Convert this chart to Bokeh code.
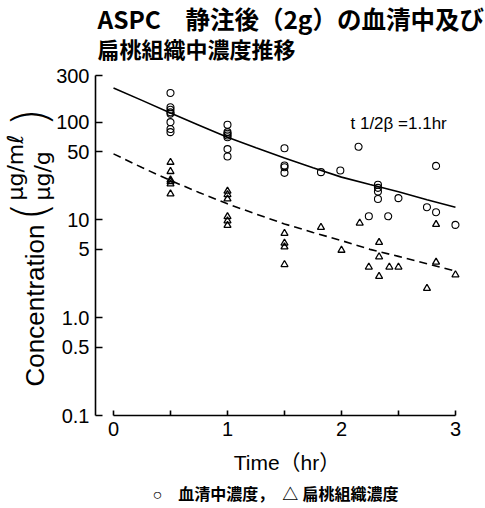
import math
from bokeh.plotting import figure
from bokeh.models import Label, FixedTicker
from bokeh.embed import file_html
from bokeh.resources import INLINE

# ---------------- data ----------------
serum_t = [0.5, 0.5, 0.5, 0.5, 0.5, 0.5, 0.5, 0.5,
           1.0, 1.0, 1.0, 1.0, 1.0, 1.0, 1.0,
           1.5, 1.5, 1.5, 1.5,
           1.82, 1.99, 2.15, 2.24, 2.32, 2.32, 2.32, 2.32, 2.41, 2.5,
           2.75, 2.83, 2.83, 3.0]
serum_c = [199, 142, 134, 126, 122, 100, 85, 79,
           94, 79, 76, 73, 70, 53, 44.5,
           54, 36, 34.6, 30.3,
           30.8, 32, 56, 10.9, 22.9, 21.3, 19.5, 16.4, 10.9, 16.7,
           13.5, 35.7, 12.0, 8.9]

tissue_t = [0.5, 0.5, 0.5, 0.5, 0.5, 0.5,
            1.0, 1.0, 1.0, 1.0, 1.0, 1.0,
            1.5, 1.5, 1.5, 1.5,
            1.82, 2.0, 2.16, 2.24, 2.33, 2.33, 2.33, 2.42, 2.5,
            2.75, 2.83, 2.83, 3.0]
tissue_c = [38.9, 31.3, 25.7, 24.7, 23.4, 18.5,
            19.7, 18.2, 16.4, 10.8, 9.8, 8.8,
            7.3, 5.8, 5.3, 3.5,
            8.4, 4.9, 9.3, 3.3, 5.9, 4.2, 2.65, 3.3, 3.3,
            2.0, 9.0, 3.7, 2.75]

curve_t = [0, 0.25, 0.5, 0.75, 1.0, 1.25, 1.5, 1.75, 2.0, 2.25, 2.5, 2.75, 3.0]
serum_fit = [224, 167, 124, 93, 70, 54.7, 43, 34.2, 27.4, 23.0, 19.4, 16.1, 13.5]
tissue_fit = [47.4, 34.3, 25.3, 19.1, 14.6, 11.5, 9.1, 7.45, 6.15, 5.0, 4.24, 3.56, 3.0]

x_ticks = [0, 0.5, 1, 1.5, 2, 2.5, 3]
x_tick_labels = ["0", "", "1", "", "2", "", "3"]
y_ticks = [0.1, 0.5, 1, 5, 10, 50, 100, 300]
y_tick_labels = ["0.1", "0.5", "1.0", "5", "10", "50", "100", "300"]

title_line1 = "ASPC\u3000静注後（2g）の血清中及び"
title_line2 = "扁桃組織中濃度推移"
half_life_text = "t 1/2β =1.1hr"
y_label = "Concentration"
unit_text = "μg/mℓ\nμg/g"
x_label = "Time（hr）"
legend_text = "○\u3000血清中濃度，\u3000△ 扁桃組織濃度"

# ---------------- figure ----------------
X0, X1 = -0.158, 3.053
Y0, Y1 = 0.1, 300
FW, FH = 366, 340
ML, MT, MR, MB = 95, 75, 24, 93

LATIN = "'Liberation Sans', 'Noto Sans CJK JP', sans-serif"
CJK = "'Noto Sans CJK JP', 'Liberation Sans', sans-serif"
UNIT = "'DejaVu Sans', 'Liberation Sans', sans-serif"
THIN = "'DejaVu Sans Light', 'DejaVu Sans ExtraLight', 'Liberation Sans', sans-serif"

p = figure(frame_width=FW, frame_height=FH, x_range=(X0, X1), y_range=(Y0, Y1),
           y_axis_type="log", output_backend="svg", toolbar_location=None,
           min_border_left=ML, min_border_right=MR,
           min_border_top=MT, min_border_bottom=MB, title=None)
p.grid.visible = False
p.outline_line_color = None
p.background_fill_color = "white"
p.border_fill_color = "white"

xa = p.xaxis[0]
ya = p.yaxis[0]
xa.ticker = FixedTicker(ticks=x_ticks, minor_ticks=[])
ya.ticker = FixedTicker(ticks=y_ticks, minor_ticks=[])
xa.major_label_overrides = {t: s for t, s in zip(x_ticks, x_tick_labels)}
ya.major_label_overrides = {t: s for t, s in zip(y_ticks, y_tick_labels)}
xa.bounds = (0, 3)
for ax in (xa, ya):
    ax.axis_line_width = 1.6
    ax.axis_line_color = "black"
    ax.major_tick_line_width = 1.6
    ax.major_tick_line_color = "black"
    ax.major_tick_out = 0
    ax.minor_tick_line_color = None
    ax.major_label_text_font = LATIN
    ax.major_label_text_font_size = "20px"
    ax.major_label_text_color = "black"
xa.major_tick_in = 5
ya.major_tick_in = 7
xa.major_label_standoff = 6
ya.major_label_standoff = 6

# fitted curves
p.line(curve_t, serum_fit, line_color="black", line_width=1.6)
p.line(curve_t, tissue_fit, line_color="black", line_width=1.6, line_dash="8 5")

# observations
p.scatter(serum_t, serum_c, marker="circle", size=7, fill_color=None,
          line_color="black", line_width=1.1)
p.scatter(tissue_t, tissue_c, marker="triangle", size=7, fill_color=None,
          line_color="black", line_width=1.3)

# ---------------- texts positioned by page pixels ----------------
FL, FR = ML, ML + FW
FT, FB = MT, MT + FH


def at(px, py):
    t = X0 + (px - FL) / (FR - FL) * (X1 - X0)
    ly = math.log10(Y0) + (FB - py) / (FB - FT) * (math.log10(Y1) - math.log10(Y0))
    return t, 10 ** ly


def put(text, px, py, size, font=LATIN, align="left", baseline="middle", angle=0.0,
        style="normal", place=None, line_height=1.2, color="black"):
    x, y = at(px, py)
    lab = Label(x=x, y=y, text=text, text_font=font,
                text_font_size=f"{size}px", text_font_style=style,
                text_align=align, text_baseline=baseline, angle=angle,
                text_color=color, text_line_height=line_height)
    if place is None:
        p.add_layout(lab)
    else:
        p.add_layout(lab, place)


put(half_life_text, 350, 122.5, 17)
put(title_line1, 97, 18, 24.5, font=CJK, style="bold", place="right")
put(title_line2, 97, 47.5, 22, font=CJK, style="bold", place="right")
put(x_label, 286.5, 462, 21, align="center", place="right")
put(legend_text, 152, 494, 16, style="bold", place="right")
put(y_label, 34, 305, 26, align="center", angle=math.pi / 2, place="right")
put(unit_text, 28, 200, 22, font=UNIT, align="left", angle=math.pi / 2,
    place="right", line_height=1.08)
put("(", 29, 211, 48, font=THIN, align="center", angle=math.pi / 2, place="right")
put(")", 29, 117, 48, font=THIN, align="center", angle=math.pi / 2, place="right")

open("out.html", "w").write(file_html(p, INLINE))
